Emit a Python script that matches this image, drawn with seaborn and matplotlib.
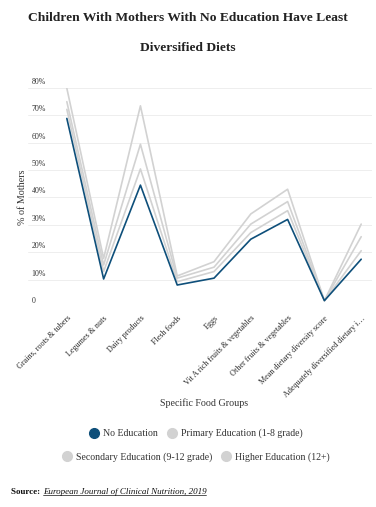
import numpy as np
import pandas as pd
import seaborn as sns
import matplotlib.pyplot as plt
import matplotlib.transforms as mtransforms
from matplotlib.lines import Line2D

# Données (% de mères)
food_groups = ['Grains, roots & tubers', 'Legumes & nuts', 'Dairy products', 'Flesh foods', 'Eggs',
               'Vit A rich fruits & vegetables', 'Other fruits & vegetables',
               'Mean dietary diversity score', 'Adequately diversified dietary i…']
no_education = [68.8, 10.3, 44.5, 8.1, 10.6, 24.8, 32.0, 2.4, 17.5]
primary = [72.1, 13.0, 50.4, 9.3, 13.0, 27.2, 35.2, 2.4, 20.6]
secondary = [74.9, 15.4, 59.4, 10.6, 14.6, 30.3, 38.5, 2.4, 25.7]
higher = [79.8, 17.8, 73.4, 11.4, 16.6, 34.0, 43.0, 2.4, 30.3]

groups = ['No Education', 'Primary Education (1-8 grade)',
          'Secondary Education (9-12 grade)', 'Higher Education (12+)']
y_ticks = [0, 10, 20, 30, 40, 50, 60, 70, 80]
y_tick_labels = ['0', '10%', '20%', '30%', '40%', '50%', '60%', '70%', '80%']

dark_blue = '#0e4f7a'
grey = '#d2d2d2'
palette = {groups[0]: dark_blue, groups[1]: grey, groups[2]: grey, groups[3]: grey}

df = pd.DataFrame({'food': food_groups * 4,
                   'group': np.repeat(groups, len(food_groups)),
                   'value': no_education + primary + secondary + higher})
df['pos'] = np.tile(np.arange(len(food_groups)), 4)

sns.set_style('white')
plt.rcParams['font.family'] = ['Liberation Serif', 'DejaVu Serif']

fig = plt.figure(figsize=(3.76, 5.07), dpi=100)
ax = fig.add_axes([0.075, 0.394, 0.915, 0.433])

sns.lineplot(data=df, x='pos', y='value', hue='group', palette=palette,
             hue_order=groups[::-1], linewidth=1.2, legend=False, ax=ax, sort=False)

ax.set_xlim(-1.05, 8.3)
ax.set_ylim(0, 80)
ax.set_yticks(y_ticks)
ax.set_yticklabels(y_tick_labels)
ax.grid(axis='y', color='#eeeeee', linewidth=0.7)
ax.set_axisbelow(True)
for s in ax.spines.values():
    s.set_visible(False)

ax.tick_params(axis='y', length=0, pad=-2.3, labelsize=5.7, labelcolor='#333333')
offset = mtransforms.ScaledTranslation(0, 2 / 100, fig.dpi_scale_trans)
for lab in ax.get_yticklabels():
    lab.set_ha('left')
    lab.set_va('bottom')
    lab.set_transform(lab.get_transform() + offset)

ax.set_xticks(range(len(food_groups)))
ax.set_xticklabels(food_groups, rotation=45, ha='right', rotation_mode='anchor',
                   fontsize=5.9, color='#2a2a2a')
ax.tick_params(axis='x', length=0, pad=5)

ax.set_ylabel('% of Mothers', fontsize=7.3, color='#333333')
ax.yaxis.set_label_coords(-0.003, 0.5)
ax.set_xlabel('Specific Food Groups', fontsize=7.2, color='#333333')
ax.xaxis.set_label_coords(0.51, -0.417)

# Titre
fig.text(0.5, 0.964, 'Children With Mothers With No Education Have Least', ha='center', va='center',
         fontsize=9.7, fontweight='bold', color='#222222')
fig.text(0.5, 0.906, 'Diversified Diets', ha='center', va='center',
         fontsize=9.7, fontweight='bold', color='#222222')

# Légende en deux lignes
def handle(c, label):
    return Line2D([], [], marker='o', linestyle='', markersize=7, markerfacecolor=c,
                  markeredgecolor=c, label=label)

h = [handle(palette[g], g) for g in groups]
fig.legend(handles=h[:2], loc='center', bbox_to_anchor=(0.52, 0.145), ncol=2, frameon=False,
           fontsize=7.1, handletextpad=0.3, columnspacing=0.8, handlelength=1.2,
           labelcolor='#333333')
fig.legend(handles=h[2:], loc='center', bbox_to_anchor=(0.52, 0.098), ncol=2, frameon=False,
           fontsize=7.1, handletextpad=0.3, columnspacing=0.8, handlelength=1.2,
           labelcolor='#333333')

# Source
fig.text(0.03, 0.03, 'Source: ', ha='left', va='center', fontsize=6.5, fontweight='bold', color='#111111')
src = fig.text(0.114, 0.03, 'European Journal of Clinical Nutrition, 2019', ha='left', va='center',
               fontsize=6.5, fontstyle='italic', color='#111111')
fig.canvas.draw()
bb = src.get_window_extent().transformed(fig.transFigure.inverted())
fig.add_artist(Line2D([bb.x0, bb.x1], [bb.y0 + 0.002, bb.y0 + 0.002], transform=fig.transFigure,
                      color='#111111', linewidth=0.5))

fig.savefig('out.png', dpi=100)
